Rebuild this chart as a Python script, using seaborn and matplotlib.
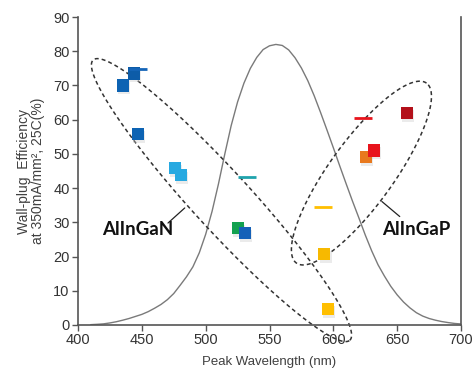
import numpy as np
import pandas as pd
import matplotlib
matplotlib.use("Agg")
import matplotlib.pyplot as plt
import seaborn as sns

# ======================================================
# DATA
# ======================================================
# eye-sensitivity style curve
curve_nm = [410, 415, 420, 425, 430, 435, 440, 445, 450, 455, 460, 465, 470, 475,
            480, 485, 490, 495, 500, 505, 510, 515, 520, 525, 530, 535, 540, 545,
            550, 555, 560, 565, 570, 575, 580, 585, 590, 595, 600, 605, 610, 615,
            620, 625, 630, 635, 640, 645, 650, 655, 660, 665, 670, 675, 680, 685,
            690, 695, 700]
curve_val = [0.1, 0.2, 0.33, 0.6, 0.95, 1.4, 1.9, 2.5, 3.1, 3.9, 4.9, 6.0, 7.4, 9.2,
             11.6, 14.1, 17.0, 21.1, 26.5, 33.2, 41.2, 50.0, 58.3, 65.2, 70.7, 75.0, 78.2, 80.5,
             81.6, 82.0, 81.7, 80.4, 78.1, 75.1, 71.4, 67.0, 62.1, 57.0, 51.8, 46.5, 41.3, 36.2,
             31.3, 26.3, 21.7, 17.6, 14.3, 11.3, 8.8, 6.7, 5.0, 3.6, 2.6, 1.9, 1.4, 1.0,
             0.7, 0.45, 0.3]

# measured LEDs (squares)
led_nm = [435, 444, 447, 476, 480.5, 525, 531, 593, 596, 625.5, 632, 657.5]
led_eff = [70.0, 73.5, 55.8, 45.9, 43.9, 28.4, 26.9, 20.8, 4.7, 49.0, 51.0, 62.0]
led_color = ["#0d63b3", "#0d5ca8", "#0d63b3", "#27a9e1", "#27a9e1", "#13a150",
             "#1561b8", "#f7b900", "#ffbf00", "#e8791e", "#e8141c", "#b3101a"]

# target levels (short horizontal bars)
target_nm = [447, 532.5, 592, 623]
target_eff = [74.8, 43.3, 34.5, 60.5]
target_color = ["#1565b8", "#1fa3ad", "#ffbf00", "#e8141c"]

xticks = [400, 450, 500, 550, 600, 650, 700]
yticks = [0, 10, 20, 30, 40, 50, 60, 70, 80, 90]

# ======================================================
# FIGURE
# ======================================================
sns.set_style("white")
plt.rcParams['font.family'] = ['Liberation Sans', 'DejaVu Sans']

fig = plt.figure(figsize=(4.77, 3.79), dpi=100)
ax = fig.add_axes([0.1635, 0.1425, 0.803, 0.8125])

sns.lineplot(x=curve_nm, y=curve_val, ax=ax, color="#7a7a7a", lw=1.0)

leds = pd.DataFrame({"nm": led_nm, "eff": led_eff, "id": range(len(led_nm))})
# soft shadow under squares
ax.scatter(np.array(led_nm) + 0.9, np.array(led_eff) - 0.8, marker="s", s=76,
           color="#c8c8c8", alpha=0.35, linewidths=0, zorder=3)
sns.scatterplot(data=leds, x="nm", y="eff", hue="id", palette=led_color,
                marker="s", s=76, linewidth=0, legend=False, ax=ax, zorder=4)

for xn, ye, c in zip(target_nm, target_eff, target_color):
    ax.plot(xn, ye, marker="_", markersize=13, markeredgewidth=2.0, color=c, zorder=5)

ax.set_xlim(400, 700)
ax.set_ylim(0, 90)
ax.set_xticks(xticks)
ax.set_yticks(yticks)

# ======================================================
# GROUP ELLIPSES (drawn in screen-like units, then mapped to data)
# ======================================================
px_x = 1.277   # pixels per nm
px_y = 3.42    # pixels per %


def dashed_ellipse(cx, cy, a, b, ang):
    t = np.linspace(0, 2 * np.pi, 300)
    th = np.deg2rad(ang)
    dx = a * np.cos(t) * np.cos(th) - b * np.sin(t) * np.sin(th)
    dy = a * np.cos(t) * np.sin(th) + b * np.sin(t) * np.cos(th)
    ax.plot(cx + dx / px_x, cy + dy / px_y, color="#333333", lw=1.1,
            ls=(0, (2.6, 2.0)), clip_on=False, zorder=2)


dashed_ellipse(512.4, 36.5, 190, 29, -47.5)
dashed_ellipse(622.0, 44.4, 111, 32, 54.1)

# labels with leader lines
ax.plot([470.5, 483.6], [29.8, 34.2], color="#222222", lw=0.9, zorder=6)
ax.text(447, 27.8, "AlInGaN", ha="center", va="center", fontsize=13.5,
        fontweight="bold", family=["Lato", "DejaVu Sans"], color="#111111", zorder=7)
ax.plot([652, 638], [31.7, 36.1], color="#222222", lw=0.9, zorder=6)
ax.text(665, 27.8, "AlInGaP", ha="center", va="center", fontsize=13.5,
        fontweight="bold", family=["Lato", "DejaVu Sans"], color="#111111", zorder=7)

# ======================================================
# AXES STYLE
# ======================================================
for s in ["left", "bottom", "right"]:
    ax.spines[s].set_color("#555555")
    ax.spines[s].set_linewidth(1.2)
ax.spines["top"].set_visible(False)
ax.tick_params(axis="both", direction="out", length=4, width=1, color="#555555",
               labelsize=10.5, labelcolor="#333333", pad=2)
ax.tick_params(axis="x", bottom=True)
ax.tick_params(axis="y", left=True)

ax.set_xlabel("Peak Wavelength (nm)", fontsize=9.5, color="#404040", labelpad=6)
ax.set_ylabel("Wall-plug  Efficiency\nat 350mA/mm\u00b2, 25C(%)", fontsize=10,
              color="#404040", labelpad=6, linespacing=1.0)

fig.savefig("out.png", dpi=100)
